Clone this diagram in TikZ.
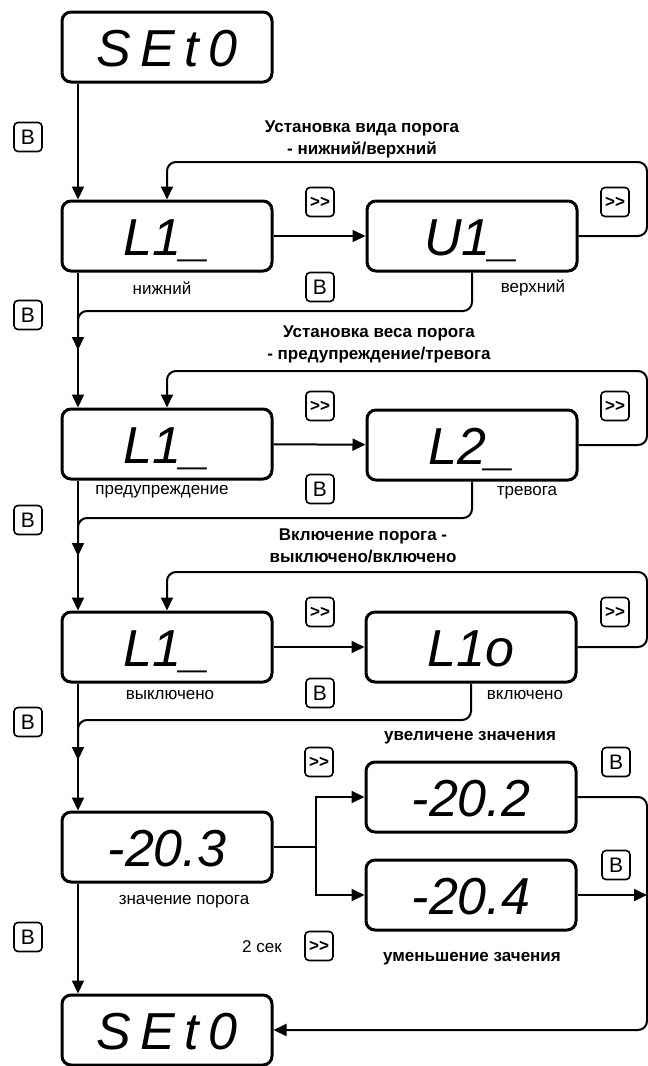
\documentclass[tikz,border=0pt]{standalone}
\usepackage{fontspec}
\setmainfont{Liberation Sans}
\newfontfamily\segfont[LetterSpace=18]{Liberation Sans}
\usetikzlibrary{arrows.meta,positioning,calc}

\begin{document}
\begin{tikzpicture}[
  x=1pt, y=-1pt, % pixel grid, y grows downwards
  display/.style={draw, line width=3pt, rounded corners=9pt, fill=white,
    minimum width=210pt, minimum height=70pt, inner sep=0pt,
    font=\fontsize{52}{52}\selectfont\itshape, text height=38pt, text depth=0pt},
  widedisplay/.style={display, font=\segfont\fontsize{52}{52}\selectfont\itshape},
  keybox/.style={draw, line width=1.6pt, rounded corners=4pt, minimum width=28pt,
    minimum height=29pt, inner sep=0pt, font=\fontsize{21}{21}\selectfont},
  nextkey/.style={keybox, font=\bfseries\fontsize{17}{17}\selectfont},
  caption/.style={font=\fontsize{17}{20}\selectfont, inner sep=0pt},
  heading/.style={font=\bfseries\fontsize{17}{22}\selectfont, align=center, inner sep=0pt},
  link/.style={line width=2pt, rounded corners=9pt},
  arrow/.style={link, -{Triangle[length=13pt, width=12pt]}}
]
\useasboundingbox (0,0) rectangle (648,1066);

% --- Guide coordinates ---
\coordinate (trunk) at (78,0);   % left vertical line
\coordinate (rim) at (647,0);    % right return line
\coordinate (fork) at (316,0);   % value branch

% --- Displays ---
\node[widedisplay] (set0top) at (167,47) {SEt0};

\node[display] (L1a) at (167,236) {L1\_};
\node[display] (U1) at (472,236) {U1\_};

\node[display] (L1b) at (167,444) {L1\_};
\node[display] (L2) at (472,445) {L2\_};

\node[display] (L1c) at (167,647) {L1\_};
\node[display] (L1o) at (471,647) {L1o};

\node[display] (val) at (167,847) {-20.3};
\node[display] (inc) at (471,797) {-20.2};
\node[display] (dec) at (471,895) {-20.4};

\node[widedisplay] (set0bot) at (167,1030) {SEt0};

% --- Headings ---
\node[heading] at (362,139) {Установка вида порога\\- нижний/верхний};
\node[heading] at (379,344) {Установка веса порога\\- предупреждение/тревога};
\node[heading] at (363,546) {Включение порога -\\выключено/включено};
\node[heading] at (470,738) {увеличене значения};
\node[heading] at (472,959) {уменьшение зачения};

% --- Captions ---
\node[caption] at (162,288) {нижний};
\node[caption] at (533,288) {верхний};
\node[caption] at (162,492) {предупреждение};
\node[caption] at (527,493) {тревога};
\node[caption] at (170,695) {выключено};
\node[caption] at (525,695) {включено};
\node[caption] at (184,902) {значение порога};
\node[caption] at (262,947) {2 сек};

% --- Keys ---
\node[keybox] (enter1) at (28,137) {B};
\node[keybox] (enter2) at (28,315) {B};
\node[keybox] (enter3) at (28,520) {B};
\node[keybox] (enter4) at (28,722) {B};
\node[keybox] (enter5) at (28,937) {B};

\node[nextkey] (next1) at (320,202) {{>}{>}};
\node[nextkey] (next2) at (320,406) {{>}{>}};
\node[nextkey] (next3) at (320,612) {{>}{>}};
\node[nextkey] (next4) at (319,762) {{>}{>}};
\node[nextkey] (next5) at (319,946) {{>}{>}};

\node[nextkey] (wrap1) at (615,202) {{>}{>}};
\node[nextkey] (wrap2) at (615,406) {{>}{>}};
\node[nextkey] (wrap3) at (615,612) {{>}{>}};

\node[keybox] (back1) at (320,287) {B};
\node[keybox] (back2) at (320,489) {B};
\node[keybox] (back3) at (320,693) {B};

\node[keybox] (done1) at (616,762) {B};
\node[keybox] (done2) at (616,865) {B};

% --- Helper levels ---
\coordinate (loop1) at (0,162);
\coordinate (loop2) at (0,371);
\coordinate (loop3) at (0,572);
\coordinate (ret1) at (0,311);
\coordinate (ret2) at (0,518);
\coordinate (ret3) at (0,720);
\coordinate (tip1) at (0,350);
\coordinate (tip2) at (0,556);
\coordinate (tip3) at (0,760);

% --- Main column ---
\draw[arrow] (trunk |- set0top.south) -- (trunk |- L1a.north);
\draw[arrow] (trunk |- L1a.south) -- (trunk |- L1b.north);
\draw[arrow] (trunk |- L1b.south) -- (trunk |- L1c.north);
\draw[arrow] (trunk |- L1c.south) -- (trunk |- val.north);
\draw[arrow] (trunk |- val.south) -- (trunk |- set0bot.north);

% --- Toggle rows ---
\draw[arrow] (L1a) -- (U1);
\draw[arrow] (U1.east) -- (U1.east -| rim) -- (rim |- loop1) -- (L1a.north |- loop1) -- (L1a.north);
\draw[arrow] (U1.south) -- (U1.south |- ret1) -- (trunk |- ret1) -- (trunk |- tip1);

\draw[arrow] (L1b) -- (L2);
\draw[arrow] (L2.east) -- (L2.east -| rim) -- (rim |- loop2) -- (L1b.north |- loop2) -- (L1b.north);
\draw[arrow] (L2.south) -- (L2.south |- ret2) -- (trunk |- ret2) -- (trunk |- tip2);

\draw[arrow] (L1c) -- (L1o);
\draw[arrow] (L1o.east) -- (L1o.east -| rim) -- (rim |- loop3) -- (L1c.north |- loop3) -- (L1c.north);
\draw[arrow] (L1o.south) -- (L1o.south |- ret3) -- (trunk |- ret3) -- (trunk |- tip3);

% --- Value branch ---
\draw[link] (val.east) -- (fork |- val.east);
\draw[arrow, sharp corners] (fork |- val.east) |- (inc.west);
\draw[arrow, sharp corners] (fork |- val.east) |- (dec.west);
\draw[arrow] (inc.east) -- (inc.east -| rim) -- (rim |- set0bot.east) -- (set0bot.east);
\draw[arrow, sharp corners] (dec.east) -- (dec.east -| rim);

\end{tikzpicture}
\end{document}
